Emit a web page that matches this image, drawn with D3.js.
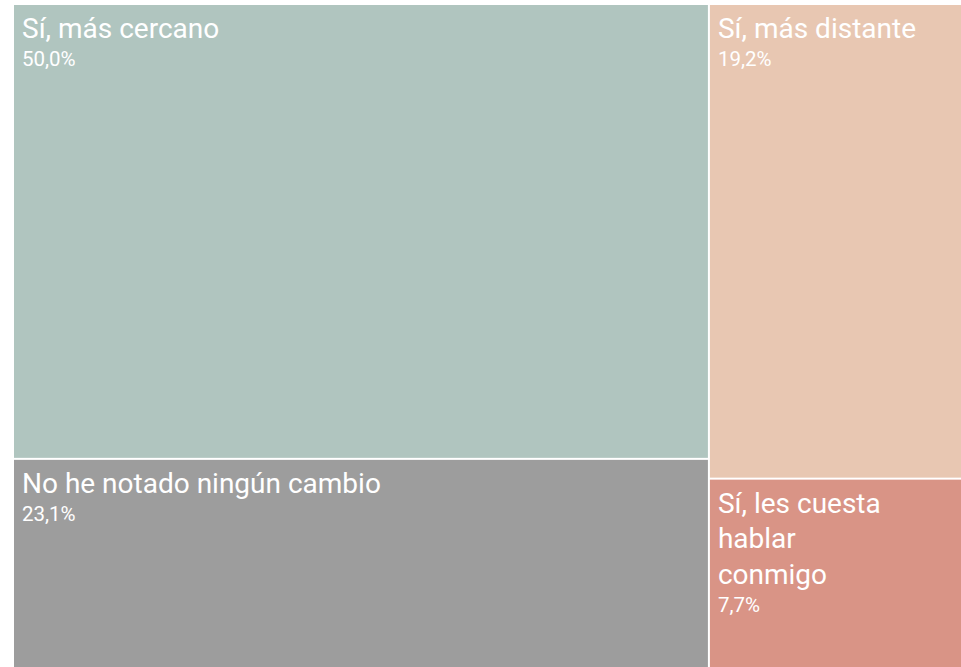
<!DOCTYPE html>
<html>
<head>
<meta charset="utf-8">
<script src="https://cdn.jsdelivr.net/npm/d3@7"></script>
<style>
  body { margin: 0; background: #fff; overflow: hidden; }
  svg { display: block; }
</style>
</head>
<body>
<div id="chart"></div>
<script>
// datos del treemap
const categories = ["Sí, más cercano", "No he notado ningún cambio", "Sí, más distante", "Sí, les cuesta hablar conmigo"];
const labels = ["Sí, más cercano", "No he notado ningún cambio", "Sí, más distante", "Sí, les cuesta\nhablar\nconmigo"];
const values = [50.0, 23.1, 19.2, 7.7];
const groups = ["a", "a", "b", "b"];
const colors = ["#b0c5bf", "#9d9d9d", "#e8c7b2", "#d99486"];

const W = 961, H = 667;
const x0 = 14, y0 = 5, tw = 950, th = 663;

const svg = d3.select("#chart").append("svg")
  .attr("width", W).attr("height", H);

const groupNames = Array.from(new Set(groups));
const tree = {
  name: "root",
  children: groupNames.map(function (g) {
    return {
      name: g,
      children: categories.map(function (c, i) {
        return { name: c, label: labels[i], value: values[i], color: colors[i], group: groups[i] };
      }).filter(function (d) { return d.group === g; })
    };
  })
};

const root = d3.hierarchy(tree).sum(function (d) { return d.value || 0; });

d3.treemap()
  .tile(d3.treemapSliceDice)
  .size([tw, th])
  .paddingInner(2)
  .round(false)(root);

const fmt = function (v) { return d3.format(".1f")(v).replace(".", ",") + "%"; };

const leaf = svg.append("g")
  .attr("transform", "translate(" + x0 + "," + y0 + ")")
  .selectAll("g")
  .data(root.leaves())
  .enter()
  .append("g")
  .attr("transform", function (d) { return "translate(" + d.x0 + "," + d.y0 + ")"; });

leaf.append("rect")
  .attr("width", function (d) { return d.x1 - d.x0; })
  .attr("height", function (d) { return d.y1 - d.y0; })
  .attr("fill", function (d) { return d.data.color; });

leaf.each(function (d) {
  const g = d3.select(this);
  const lines = d.data.label.split("\n");
  const t = g.append("text")
    .attr("x", 8)
    .attr("fill", "#fff")
    .style("font-family", "Roboto, sans-serif");
  lines.forEach(function (l, i) {
    t.append("tspan")
      .attr("x", 8)
      .attr("y", 33 + i * 35.5)
      .style("font-size", "28px")
      .text(l);
  });
  g.append("text")
    .attr("x", 8)
    .attr("y", 33 + (lines.length - 1) * 35.5 + 28)
    .attr("fill", "#fff")
    .style("font-family", "Roboto, sans-serif")
    .style("font-size", "20.5px")
    .text(fmt(d.data.value));
});
</script>
</body>
</html>
